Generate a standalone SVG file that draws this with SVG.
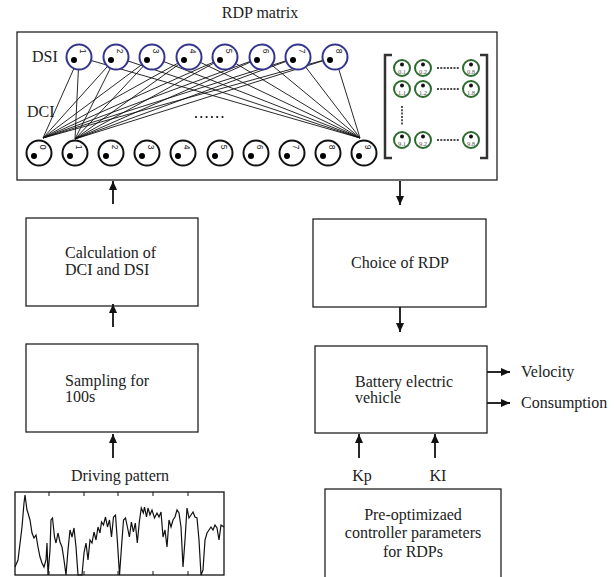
<svg xmlns="http://www.w3.org/2000/svg" width="615" height="577" viewBox="0 0 615 577">
<defs>
<style>
text{font-family:"Liberation Serif","Times New Roman",serif;fill:#222}
.t{font-size:16px}
.box{fill:none;stroke:#222;stroke-width:1.3}
.dsi{fill:#fff;stroke:#35358f;stroke-width:2}
.dci{fill:#fff;stroke:#111;stroke-width:2}
.g{fill:#fff;stroke:#2e6b2e;stroke-width:2}
.num{font-family:"Liberation Sans",Arial,sans-serif;font-size:8.5px;fill:#222}
.ml{font-size:6.5px;fill:#555}
.ln{stroke:#111;stroke-width:0.9;fill:none}
.ar{stroke:#111;stroke-width:1.8;fill:none;marker-end:url(#ah)}
.br{fill:none;stroke:#333;stroke-width:2.5}
</style>
<marker id="ah" markerUnits="userSpaceOnUse" markerWidth="10" markerHeight="10" viewBox="0 0 10 10" refX="9" refY="5" orient="auto">
<path d="M0,1 L9,5 L0,9 Z" fill="#111"/>
</marker>
</defs>
<rect width="615" height="577" fill="#fff"/>

<text class="t" x="260" y="18" text-anchor="middle">RDP matrix</text>
<g id="rdp-matrix">
<rect class="box" x="17" y="32" width="480" height="148"/>
<text class="t" x="32" y="62">DSI</text>
<text class="t" x="27" y="117">DCI</text>
</g>

<g id="connectors">
<g id="dsi-dci-lines">
<line class="ln" x1="79" y1="57" x2="43" y2="138"/>
<line class="ln" x1="79" y1="57" x2="75" y2="139"/>
<line class="ln" x1="79" y1="57" x2="360" y2="138"/>
<line class="ln" x1="116" y1="57" x2="43" y2="138"/>
<line class="ln" x1="116" y1="57" x2="75" y2="139"/>
<line class="ln" x1="116" y1="57" x2="360" y2="138"/>
<line class="ln" x1="152" y1="57" x2="43" y2="138"/>
<line class="ln" x1="152" y1="57" x2="75" y2="139"/>
<line class="ln" x1="152" y1="57" x2="360" y2="138"/>
<line class="ln" x1="189" y1="57" x2="43" y2="138"/>
<line class="ln" x1="189" y1="57" x2="75" y2="139"/>
<line class="ln" x1="189" y1="57" x2="360" y2="138"/>
<line class="ln" x1="225" y1="57" x2="43" y2="138"/>
<line class="ln" x1="225" y1="57" x2="75" y2="139"/>
<line class="ln" x1="225" y1="57" x2="360" y2="138"/>
<line class="ln" x1="262" y1="57" x2="43" y2="138"/>
<line class="ln" x1="262" y1="57" x2="75" y2="139"/>
<line class="ln" x1="262" y1="57" x2="360" y2="138"/>
<line class="ln" x1="298" y1="57" x2="43" y2="138"/>
<line class="ln" x1="298" y1="57" x2="75" y2="139"/>
<line class="ln" x1="298" y1="57" x2="360" y2="138"/>
<line class="ln" x1="335" y1="57" x2="43" y2="138"/>
<line class="ln" x1="335" y1="57" x2="75" y2="139"/>
<line class="ln" x1="335" y1="57" x2="360" y2="138"/>
</g>
<line class="ar" x1="113" y1="204" x2="113" y2="181"/>
<line class="ar" x1="400" y1="181" x2="400" y2="205"/>
<line class="ar" x1="113" y1="327" x2="113" y2="304"/>
<line class="ar" x1="400" y1="307" x2="400" y2="332"/>
<line class="ar" x1="113" y1="458" x2="113" y2="434"/>
<line class="ar" x1="359" y1="458" x2="359" y2="434"/>
<line class="ar" x1="435" y1="458" x2="435" y2="434"/>
<line class="ar" x1="487" y1="372" x2="510" y2="372"/>
<line class="ar" x1="487" y1="403" x2="510" y2="403"/>
</g>

<g id="dsi-nodes">
<g id="dsi1"><circle class="dsi" cx="79" cy="57" r="12.5"/><circle cx="74" cy="60" r="3" fill="#000"/><text class="num" transform="translate(83,51) rotate(90)" text-anchor="middle" dominant-baseline="central">1</text></g>
<g id="dsi2"><circle class="dsi" cx="116" cy="57" r="12.5"/><circle cx="111" cy="60" r="3" fill="#000"/><text class="num" transform="translate(120,51) rotate(90)" text-anchor="middle" dominant-baseline="central">2</text></g>
<g id="dsi3"><circle class="dsi" cx="152" cy="57" r="12.5"/><circle cx="147" cy="60" r="3" fill="#000"/><text class="num" transform="translate(156,51) rotate(90)" text-anchor="middle" dominant-baseline="central">3</text></g>
<g id="dsi4"><circle class="dsi" cx="189" cy="57" r="12.5"/><circle cx="184" cy="60" r="3" fill="#000"/><text class="num" transform="translate(193,51) rotate(90)" text-anchor="middle" dominant-baseline="central">4</text></g>
<g id="dsi5"><circle class="dsi" cx="225" cy="57" r="12.5"/><circle cx="220" cy="60" r="3" fill="#000"/><text class="num" transform="translate(229,51) rotate(90)" text-anchor="middle" dominant-baseline="central">5</text></g>
<g id="dsi6"><circle class="dsi" cx="262" cy="57" r="12.5"/><circle cx="257" cy="60" r="3" fill="#000"/><text class="num" transform="translate(266,51) rotate(90)" text-anchor="middle" dominant-baseline="central">6</text></g>
<g id="dsi7"><circle class="dsi" cx="298" cy="57" r="12.5"/><circle cx="293" cy="60" r="3" fill="#000"/><text class="num" transform="translate(302,51) rotate(90)" text-anchor="middle" dominant-baseline="central">7</text></g>
<g id="dsi8"><circle class="dsi" cx="335" cy="57" r="12.5"/><circle cx="330" cy="60" r="3" fill="#000"/><text class="num" transform="translate(339,51) rotate(90)" text-anchor="middle" dominant-baseline="central">8</text></g>
</g>

<g id="dci-nodes">
<g id="dci0"><circle class="dci" cx="39" cy="153" r="12.5"/><circle cx="34" cy="156" r="3" fill="#000"/><text class="num" transform="translate(43,147) rotate(90)" text-anchor="middle" dominant-baseline="central">0</text></g>
<g id="dci1"><circle class="dci" cx="75" cy="153" r="12.5"/><circle cx="70" cy="156" r="3" fill="#000"/><text class="num" transform="translate(79,147) rotate(90)" text-anchor="middle" dominant-baseline="central">1</text></g>
<g id="dci2"><circle class="dci" cx="111" cy="153" r="12.5"/><circle cx="106" cy="156" r="3" fill="#000"/><text class="num" transform="translate(115,147) rotate(90)" text-anchor="middle" dominant-baseline="central">2</text></g>
<g id="dci3"><circle class="dci" cx="147" cy="153" r="12.5"/><circle cx="142" cy="156" r="3" fill="#000"/><text class="num" transform="translate(151,147) rotate(90)" text-anchor="middle" dominant-baseline="central">3</text></g>
<g id="dci4"><circle class="dci" cx="183" cy="153" r="12.5"/><circle cx="178" cy="156" r="3" fill="#000"/><text class="num" transform="translate(187,147) rotate(90)" text-anchor="middle" dominant-baseline="central">4</text></g>
<g id="dci5"><circle class="dci" cx="220" cy="153" r="12.5"/><circle cx="215" cy="156" r="3" fill="#000"/><text class="num" transform="translate(224,147) rotate(90)" text-anchor="middle" dominant-baseline="central">5</text></g>
<g id="dci6"><circle class="dci" cx="256" cy="153" r="12.5"/><circle cx="251" cy="156" r="3" fill="#000"/><text class="num" transform="translate(260,147) rotate(90)" text-anchor="middle" dominant-baseline="central">6</text></g>
<g id="dci7"><circle class="dci" cx="292" cy="153" r="12.5"/><circle cx="287" cy="156" r="3" fill="#000"/><text class="num" transform="translate(296,147) rotate(90)" text-anchor="middle" dominant-baseline="central">7</text></g>
<g id="dci8"><circle class="dci" cx="328" cy="153" r="12.5"/><circle cx="323" cy="156" r="3" fill="#000"/><text class="num" transform="translate(332,147) rotate(90)" text-anchor="middle" dominant-baseline="central">8</text></g>
<g id="dci9"><circle class="dci" cx="364" cy="153" r="12.5"/><circle cx="359" cy="156" r="3" fill="#000"/><text class="num" transform="translate(368,147) rotate(90)" text-anchor="middle" dominant-baseline="central">9</text></g>
</g>

<g id="ellipsis" fill="#111">
<circle cx="196" cy="117" r="1.1"/><circle cx="201.3" cy="117" r="1.1"/><circle cx="206.6" cy="117" r="1.1"/><circle cx="211.9" cy="117" r="1.1"/><circle cx="217.2" cy="117" r="1.1"/><circle cx="222.5" cy="117" r="1.1"/>
</g>

<g id="green-matrix">
<path class="br" d="M392,55 H385 V158 H392"/>
<path class="br" d="M480,55 H487 V158 H480"/>
<g id="m01"><circle class="g" cx="402" cy="68" r="8"/><circle cx="402" cy="64.5" r="2" fill="#111"/><text class="ml" x="402" y="74" text-anchor="middle">0.1</text></g>
<g id="m02"><circle class="g" cx="423" cy="68" r="8"/><circle cx="423" cy="64.5" r="2" fill="#111"/><text class="ml" x="423" y="74" text-anchor="middle">0.2</text></g>
<g id="m08"><circle class="g" cx="471" cy="68" r="8"/><circle cx="471" cy="64.5" r="2" fill="#111"/><text class="ml" x="471" y="74" text-anchor="middle">0.8</text></g>
<g id="m11"><circle class="g" cx="402" cy="89" r="8"/><circle cx="402" cy="85.5" r="2" fill="#111"/><text class="ml" x="402" y="95" text-anchor="middle">1.1</text></g>
<g id="m12"><circle class="g" cx="423" cy="89" r="8"/><circle cx="423" cy="85.5" r="2" fill="#111"/><text class="ml" x="423" y="95" text-anchor="middle">1.2</text></g>
<g id="m18"><circle class="g" cx="471" cy="89" r="8"/><circle cx="471" cy="85.5" r="2" fill="#111"/><text class="ml" x="471" y="95" text-anchor="middle">1.8</text></g>
<g id="m91"><circle class="g" cx="402" cy="140" r="8"/><circle cx="402" cy="136.5" r="2" fill="#111"/><text class="ml" x="402" y="146" text-anchor="middle">9.1</text></g>
<g id="m92"><circle class="g" cx="423" cy="140" r="8"/><circle cx="423" cy="136.5" r="2" fill="#111"/><text class="ml" x="423" y="146" text-anchor="middle">9.2</text></g>
<g id="m98"><circle class="g" cx="471" cy="140" r="8"/><circle cx="471" cy="136.5" r="2" fill="#111"/><text class="ml" x="471" y="146" text-anchor="middle">9.8</text></g>
<g fill="#111">
<path d="M437,68h2M440.3,68h2M443.6,68h2M446.9,68h2M450.2,68h2M453.5,68h2M456.8,68h2" stroke="#111" stroke-width="1.4"/>
<path d="M437,89h2M440.3,89h2M443.6,89h2M446.9,89h2M450.2,89h2M453.5,89h2M456.8,89h2" stroke="#111" stroke-width="1.4"/>
<path d="M437,140h2M440.3,140h2M443.6,140h2M446.9,140h2M450.2,140h2M453.5,140h2M456.8,140h2" stroke="#111" stroke-width="1.4"/>
<path d="M402,106v2M402,109.3v2M402,112.6v2M402,115.9v2M402,119.2v2M402,122.5v2" stroke="#111" stroke-width="1.4"/>
</g>
</g>

<g id="calc">
<rect class="box" x="26" y="218" width="172" height="88"/>
<text class="t" x="65" y="258">Calculation of</text>
<text class="t" x="65" y="275">DCI and DSI</text>
</g>
<g id="sampling">
<rect class="box" x="26" y="344" width="172" height="88"/>
<text class="t" x="65" y="386">Sampling for</text>
<text class="t" x="65" y="402">100s</text>
</g>
<g id="choice">
<rect class="box" x="313" y="219" width="173" height="88"/>
<text class="t" x="400" y="268" text-anchor="middle">Choice of RDP</text>
</g>
<g id="bev">
<rect class="box" x="315" y="346" width="172" height="87"/>
<text class="t" x="355" y="387">Battery electric</text>
<text class="t" x="355" y="403">vehicle</text>
</g>
<text class="t" x="521" y="377">Velocity</text>
<text class="t" x="521" y="408">Consumption</text>
<text class="t" x="362" y="481" text-anchor="middle">Kp</text>
<text class="t" x="438" y="481" text-anchor="middle">KI</text>
<g id="preopt">
<rect class="box" x="325" y="489" width="176" height="100"/>
<text class="t" x="413" y="520" text-anchor="middle">Pre-optimizaed</text>
<text class="t" x="413" y="538" text-anchor="middle">controller parameters</text>
<text class="t" x="413" y="557" text-anchor="middle">for RDPs</text>
</g>
<text class="t" x="120" y="481" text-anchor="middle">Driving pattern</text>
<g id="driving-pattern">
<rect x="15" y="492" width="209" height="83" fill="none" stroke="#111" stroke-width="1.3"/>
<path d="M49,492v4M84,492v4M118,492v4M153,492v4M188,492v4M49,575v-4M84,575v-4M118,575v-4M153,575v-4M188,575v-4" stroke="#111" stroke-width="1"/>
<polyline fill="none" stroke="#111" stroke-width="1.2" points="15,567 18,560 22,527 24,503 25,495 27,510 28,513 30,520 32,533 34,538 36,535 38,547 40,557 42,563 44,567 46,560 47,543 48,575 50,550 51,520 52.5,518 54.5,537 56,543 58,533 60,542 62,547 64,560 66,575 68,550 70,530 72,537 74,528 76,547 78,575 82,575 84,553 86,543 88,560 90,540 92,543 94,532 96,540 98,527 100,533 101.5,522 103.5,525 105.5,517 107.5,527 109.5,520 111.5,537 113.5,517 115.5,515 117.5,543 119.5,575 121.5,547 123.5,520 125.5,518 127.4,527 129.4,537 131.4,522 133.4,532 135.3,523 137.3,543 139.3,522 141.3,508 143.3,513 144.5,507 146.5,517 148,508 150,515 152,510 154.5,518 157,513 159,517 161,512 163,537 165,530 167,547 169,520 171,527 173,520 175,517 177,510 179,513 181,527 183,567 185,540 187,508 189,518 191,515 193,512 195,517 197,518 199,540 201,575 203,570 205,540 207,533 209,530 211,527 213,530 215,525 217,528 219,540 221,525 224,527"/>
</g>
</svg>
